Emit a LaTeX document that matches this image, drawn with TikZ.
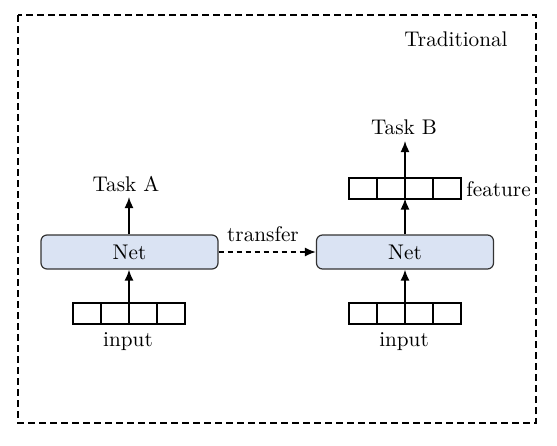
\documentclass[tikz,border=0pt]{standalone}
\usetikzlibrary{arrows.meta}
\begin{document}
\begin{tikzpicture}[x=0.5pt,y=-0.5pt,
  every node/.style={font=\fontsize{10.6pt}{12pt}\selectfont},
  netbox/.style={draw=black!80, line width=0.6pt, rounded corners=3pt, fill={rgb,255:red,218;green,227;blue,243}, minimum width=88.5pt, minimum height=17pt, inner sep=0pt},
  cell/.style={draw=black, line width=1pt, minimum width=14pt, minimum height=10.5pt, inner sep=0pt, outer sep=0pt},
  arr/.style={line width=0.8pt, -{Latex[length=5.5pt,width=4.5pt]}},
  lbl/.style={inner sep=0pt}]
\useasboundingbox (0,0) rectangle (557,445);
\draw[line width=1pt, dash pattern=on 3.5pt off 2pt] (18,15) rectangle (536,423);
\node[lbl] (trad) at (456,39) {Traditional};

% left
\node[netbox] (netA) at (129.5,252) {Net};
\foreach \i/\x in {1/87,2/115,3/143,4/171}
  \node[cell] (inA\i) at (\x,313.5) {};
\node[lbl] (inAl) at (128,342) {input};
\node[lbl] (taskA) at (126,184) {Task A};
\coordinate (taskAb) at (129,197);
\draw[arr] (inA2.north east) -- (netA.south -| inA2.north east);
\draw[arr] (netA.north -| inA2.north east) -- (taskAb);

% right
\node[netbox] (netB) at (405,252) {Net};
\foreach \i/\x in {1/363,2/391,3/419,4/447}
  \node[cell] (inB\i) at (\x,313.5) {};
\node[lbl] (inBl) at (404,342) {input};
\foreach \i/\x in {1/363,2/391,3/419,4/447}
  \node[cell] (fB\i) at (\x,188) {};
\node[lbl, anchor=west] (feat) at (466,189) {feature};
\node[lbl] (taskB) at (404,127) {Task B};
\coordinate (taskBb) at (405,141);
\draw[arr] (inB2.north east) -- (netB.south -| inB2.north east);
\draw[arr] (netB.north -| fB2.south east) -- (fB2.south east);
\draw[arr] (fB2.north east) -- (taskBb);

% transfer
\draw[arr, dash pattern=on 2.5pt off 2pt] (netA.east) -- (netB.west);
\node[lbl] (tr) at (263,234) {transfer};
\end{tikzpicture}
\end{document}
